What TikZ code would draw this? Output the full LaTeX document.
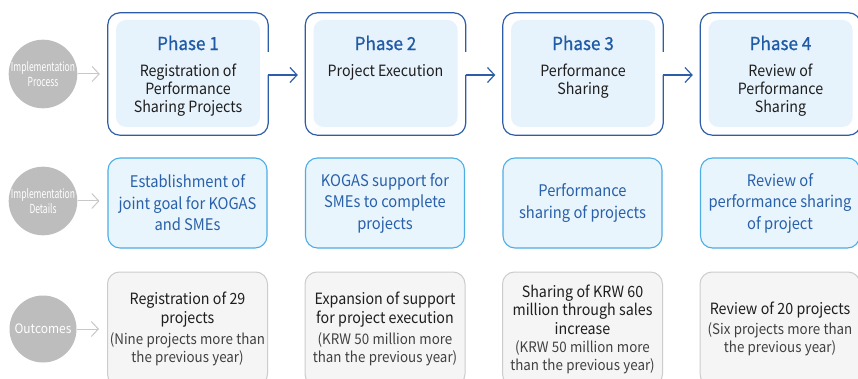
\documentclass[tikz,border=0pt]{standalone}
\usepackage{fontspec}
\setmainfont[FakeStretch=0.92]{Noto Sans CJK KR}
\newfontfamily\condfont[FakeStretch=0.68]{Noto Sans CJK KR}
\newfontfamily\titlefont[FakeStretch=0.95,FakeBold=0.9]{Noto Sans CJK KR}
\usetikzlibrary{arrows.meta}
\definecolor{outerblue}{HTML}{2E5DA8}
\definecolor{titleblue}{HTML}{1F5BA6}
\definecolor{innerfill}{HTML}{E7F3FC}
\definecolor{rtwoborder}{HTML}{4DAEE5}
\definecolor{rtwofill}{HTML}{E8F5FD}
\definecolor{rtwotext}{HTML}{2960A9}
\definecolor{rthreeborder}{HTML}{CCCCCC}
\definecolor{rthreefill}{HTML}{F5F5F5}
\definecolor{circlegray}{HTML}{BDBDBD}
\definecolor{arrowgray}{HTML}{C8C8C8}
\definecolor{maintext}{HTML}{1E1E1E}
\definecolor{parentext}{HTML}{404040}
\begin{document}
\begin{tikzpicture}[x=1pt,y=-1pt,
  outerb/.style={draw=none,minimum width=160pt,minimum height=122pt,inner sep=0pt},
  outerline/.style={draw=outerblue,line width=1.2pt,rounded corners=12pt},
  innerb/.style={fill=innerfill,rounded corners=10pt,minimum width=144pt,minimum height=107pt,inner sep=0pt},
  titlet/.style={text=titleblue,font=\titlefont\fontsize{18}{20}\selectfont,inner sep=0pt},
  bodyt/.style={anchor=north,align=center,text=maintext,font=\fontsize{15.5}{18}\selectfont,inner sep=0pt},
  rtwobox/.style={draw=rtwoborder,fill=rtwofill,line width=1.1pt,rounded corners=12pt,minimum width=159pt,minimum height=90pt,inner sep=0pt,align=center,text=rtwotext,font=\fontsize{16}{21.5}\selectfont},
  rthreebox/.style={draw=rthreeborder,fill=rthreefill,line width=1pt,rounded corners=12pt,minimum width=159pt,minimum height=114pt,inner sep=0pt,text width=160pt,align=center,text=maintext},
  circ/.style={circle,fill=circlegray,minimum size=67pt,inner sep=0pt,align=center,text=white,font=\condfont\fontsize{12.5}{15}\selectfont},
  grayarr/.style={draw=arrowgray,line width=1pt,-{Straight Barb[length=7pt,width=15pt]}},
  phasearr/.style={draw=outerblue,line width=1.2pt,-{Straight Barb[length=7pt,width=15pt]}}
]
\clip (0,0) rectangle (858,379);
\useasboundingbox (0,0) rectangle (858,379);
\fill[white] (0,0) rectangle (858,379);

% helper coordinates for arrow levels
\coordinate (alev) at (0,75);
\coordinate (glev) at (0,52);

% Phase outer boxes (named, invisible) and inner fills
\node[outerb] (p1) at (188,74) {};
\node[outerb] (p2) at (385.5,74) {};
\node[outerb] (p3) at (583,74) {};
\node[outerb] (p4) at (780.5,74) {};

\foreach \k in {1,2,3}{
  \draw[outerline] (p\k.east|-alev) -- (p\k.south east) -- (p\k.south west) -- (p\k.north west) -- (p\k.north east) -- (p\k.east|-glev);
}
\draw[outerline] (p4.north west) rectangle (p4.south east);

\node[innerb] (i1) at (188,73.5) {};
\node[innerb] (i2) at (385.5,73.5) {};
\node[innerb] (i3) at (583,73.5) {};
\node[innerb] (i4) at (780.5,73.5) {};

\node[titlet] (t1) at (188,43) {Phase 1};
\node[titlet] (t2) at (385.5,43) {Phase 2};
\node[titlet] (t3) at (583,43) {Phase 3};
\node[titlet] (t4) at (780.5,43) {Phase 4};

\node[bodyt] (b1) at (188,64) {Registration of\\Performance\\Sharing Projects};
\node[bodyt] (b2) at (385.5,64) {Project Execution};
\node[bodyt] (b3) at (583,64) {Performance\\Sharing};
\node[bodyt] (b4) at (780.5,64) {Review of\\Performance\\Sharing};

\draw[phasearr] (p1.east|-alev) -- ([xshift=-7.5pt]p2.west|-alev);
\draw[phasearr] (p2.east|-alev) -- ([xshift=-7.5pt]p3.west|-alev);
\draw[phasearr] (p3.east|-alev) -- ([xshift=-7.5pt]p4.west|-alev);

% Row 2
\node[rtwobox] (d1) at (187.5,203) {Establishment of\\joint goal for KOGAS\\and SMEs};
\node[rtwobox] (d2) at (385,203) {KOGAS support for\\SMEs to complete\\projects};
\node[rtwobox] (d3) at (582.5,203) {Performance\\sharing of projects};
\node[rtwobox] (d4) at (780,203) {Review of\\performance sharing\\of project};

% Row 3
\node[rthreebox] (o1) at (187.5,329) {{\fontsize{15.5}{18.5}\selectfont Registration of 29\\projects\par}\vspace{4pt}{\fontsize{14.5}{17.5}\selectfont\color{parentext}(Nine projects more than\\the previous year)\par}};
\node[rthreebox] (o2) at (385,329) {{\fontsize{15.5}{18.5}\selectfont Expansion of support\\for project execution\par}\vspace{4pt}{\fontsize{14.5}{17.5}\selectfont\color{parentext}(KRW 50 million more\\than the previous year)\par}};
\node[rthreebox] (o3) at (582.5,329) {{\fontsize{15.5}{18.5}\selectfont Sharing of KRW 60\\million through sales\\increase\par}{\fontsize{14.5}{18}\selectfont\color{parentext}(KRW 50 million more\\than the previous year)\par}};
\node[rthreebox] (o4) at (780,329) {{\fontsize{15.5}{18.5}\selectfont Review of 20 projects\par}\vspace{2pt}{\fontsize{14.5}{18}\selectfont\color{parentext}(Six projects more than\\the previous year)\par}};

% Circles
\node[circ] (c1) at (43,74) {Implementation\\Process};
\node[circ] (c2) at (43,201) {Implementation\\Details};
\node[circ,font=\fontsize{13}{15}\selectfont] (c3) at (43,329) {Outcomes};

\draw[grayarr] (c1.east) -- ([xshift=-8pt]p1.west|-c1.east);
\draw[grayarr] (c2.east) -- ([xshift=-8pt]d1.west|-c2.east);
\draw[grayarr] (c3.east) -- ([xshift=-8pt]o1.west|-c3.east);
\end{tikzpicture}
\end{document}
